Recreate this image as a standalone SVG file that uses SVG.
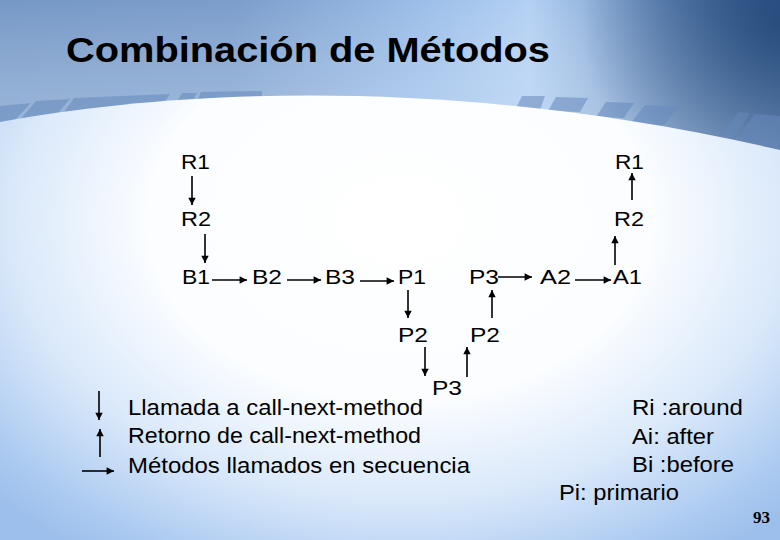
<svg xmlns="http://www.w3.org/2000/svg" width="780" height="540" viewBox="0 0 780 540">
  <defs>
    <radialGradient id="bgLow" cx="400" cy="220" r="560" gradientUnits="userSpaceOnUse" gradientTransform="translate(400 220) scale(1 0.72) translate(-400 -220)">
      <stop offset="0" stop-color="#ffffff"/>
      <stop offset="0.45" stop-color="#fbfdff"/>
      <stop offset="0.7" stop-color="#d9e8fa"/>
      <stop offset="0.9" stop-color="#adcbf1"/>
      <stop offset="1" stop-color="#9cbfeb"/>
    </radialGradient>
    <linearGradient id="topBand" x1="0" y1="0" x2="780" y2="0" gradientUnits="userSpaceOnUse">
      <stop offset="0" stop-color="#7598c6"/>
      <stop offset="0.3" stop-color="#7b9dcb"/>
      <stop offset="0.55" stop-color="#9dbfe9"/>
      <stop offset="0.68" stop-color="#b3d0f3"/>
      <stop offset="0.85" stop-color="#6f93c2"/>
      <stop offset="1" stop-color="#3a6194"/>
    </linearGradient>
    <linearGradient id="topFade" x1="0" y1="0" x2="0" y2="150" gradientUnits="userSpaceOnUse">
      <stop offset="0" stop-color="#ffffff" stop-opacity="0"/>
      <stop offset="1" stop-color="#cfe2f8" stop-opacity="0.45"/>
    </linearGradient>
    <radialGradient id="cornerDark" cx="780" cy="20" r="200" gradientUnits="userSpaceOnUse">
      <stop offset="0" stop-color="#23497a" stop-opacity="0.85"/>
      <stop offset="1" stop-color="#23497a" stop-opacity="0"/>
    </radialGradient>
    <marker id="ah" viewBox="0 0 10 10" refX="10" refY="5" markerWidth="5" markerHeight="4.6" orient="auto" markerUnits="strokeWidth">
      <path d="M0,0 L10,5 L0,10 z" fill="#000"/>
    </marker>
    <style>
      .lbl { font-family: "Liberation Sans", Arial, sans-serif; font-size: 21px; fill: #000; }
      .leg { font-family: "Liberation Sans", Arial, sans-serif; font-size: 22px; fill: #000; }
      .title { font-family: "Liberation Sans", Arial, sans-serif; font-size: 35px; font-weight: bold; fill: #000; }
      .num { font-family: "Liberation Serif", "Times New Roman", serif; font-size: 17px; font-weight: bold; fill: #000; }
      .ar { stroke: #000; stroke-width: 1.6; fill: none; marker-end: url(#ah); }
      .stripe { fill: #6688bb; opacity: 0.55; }
    </style>
  </defs>

  <!-- background -->
  <rect x="0" y="0" width="780" height="540" fill="url(#bgLow)"/>
  <path d="M0,0 H780 V160 L0,160 Z" fill="url(#topBand)"/>
  <path d="M0,0 H780 V160 L0,160 Z" fill="url(#topFade)"/>
  <path d="M0,0 H780 V160 L0,160 Z" fill="url(#cornerDark)"/>
  <g id="stripes">
    <polygon class="stripe" points="0,106 31,103 10,125 0,125"/>
    <polygon class="stripe" points="36,101 70,99 52,120 18,122"/>
    <polygon class="stripe" points="74,98 170,94 160,110 62,115"/>
    <polygon class="stripe" points="182,93 197,93 190,105 175,105"/>
    <polygon class="stripe" points="201,92 262,91 262,105 195,106"/>
    <polygon class="stripe" points="522,96 545,96 540,110 515,110"/>
    <polygon class="stripe" points="556,97 588,98 580,112 548,111"/>
    <polygon class="stripe" points="606,102 634,103 624,118 596,117"/>
    <polygon class="stripe" points="645,105 678,107 664,125 630,124"/>
    <polygon class="stripe" points="738,112 750,113 725,150 712,150"/>
    <polygon class="stripe" points="754,114 780,116 780,150 730,150"/>
  </g>
  <path d="M0,122 C200,85 480,80 780,150 V540 H0 Z" fill="url(#bgLow)"/>

  <text class="title" x="66" y="62" textLength="484" lengthAdjust="spacingAndGlyphs">Combinación de Métodos</text>

  <g id="connectors">
    <line class="ar" x1="192" y1="176" x2="192" y2="205"/>
    <line class="ar" x1="205" y1="234" x2="205" y2="263"/>
    <line class="ar" x1="212" y1="280" x2="247" y2="280"/>
    <line class="ar" x1="287" y1="280" x2="321" y2="280"/>
    <line class="ar" x1="360" y1="281" x2="394" y2="281"/>
    <line class="ar" x1="408" y1="290" x2="408" y2="318"/>
    <line class="ar" x1="425" y1="347" x2="425" y2="376"/>
    <line class="ar" x1="467" y1="377" x2="467" y2="347"/>
    <line class="ar" x1="492" y1="318" x2="492" y2="290"/>
    <line class="ar" x1="498" y1="277" x2="532" y2="277"/>
    <line class="ar" x1="575" y1="280" x2="611" y2="280"/>
    <line class="ar" x1="615" y1="265" x2="615" y2="236"/>
    <line class="ar" x1="632" y1="200" x2="632" y2="173"/>
    <!-- legend arrows -->
    <line class="ar" x1="99" y1="391" x2="99" y2="420"/>
    <line class="ar" x1="100" y1="457" x2="100" y2="429"/>
    <line class="ar" x1="82" y1="471" x2="114" y2="471"/>
  </g>

  <g id="R1a"><text class="lbl" x="181" y="169" textLength="29" lengthAdjust="spacingAndGlyphs">R1</text></g>
  <g id="R2a"><text class="lbl" x="181" y="226" textLength="30" lengthAdjust="spacingAndGlyphs">R2</text></g>
  <g id="B1"><text class="lbl" x="182" y="284" textLength="28" lengthAdjust="spacingAndGlyphs">B1</text></g>
  <g id="B2"><text class="lbl" x="252" y="284" textLength="30" lengthAdjust="spacingAndGlyphs">B2</text></g>
  <g id="B3"><text class="lbl" x="325" y="284" textLength="30" lengthAdjust="spacingAndGlyphs">B3</text></g>
  <g id="P1"><text class="lbl" x="398" y="284" textLength="28" lengthAdjust="spacingAndGlyphs">P1</text></g>
  <g id="P2a"><text class="lbl" x="398" y="342" textLength="30" lengthAdjust="spacingAndGlyphs">P2</text></g>
  <g id="P3b"><text class="lbl" x="432" y="395" textLength="30" lengthAdjust="spacingAndGlyphs">P3</text></g>
  <g id="P2b"><text class="lbl" x="470" y="342" textLength="30" lengthAdjust="spacingAndGlyphs">P2</text></g>
  <g id="P3a"><text class="lbl" x="469" y="284" textLength="30" lengthAdjust="spacingAndGlyphs">P3</text></g>
  <g id="A2"><text class="lbl" x="540" y="284" textLength="31" lengthAdjust="spacingAndGlyphs">A2</text></g>
  <g id="A1"><text class="lbl" x="613" y="284" textLength="29" lengthAdjust="spacingAndGlyphs">A1</text></g>
  <g id="R2b"><text class="lbl" x="614" y="226" textLength="30" lengthAdjust="spacingAndGlyphs">R2</text></g>
  <g id="R1b"><text class="lbl" x="615" y="169" textLength="29" lengthAdjust="spacingAndGlyphs">R1</text></g>

  <g id="legend">
    <text class="leg" x="128" y="415" textLength="295" lengthAdjust="spacingAndGlyphs">Llamada a call-next-method</text>
    <text class="leg" x="128" y="443" textLength="293" lengthAdjust="spacingAndGlyphs">Retorno de call-next-method</text>
    <text class="leg" x="128" y="473" textLength="342" lengthAdjust="spacingAndGlyphs">Métodos llamados en secuencia</text>
    <text class="leg" x="632" y="415" textLength="111" lengthAdjust="spacingAndGlyphs">Ri :around</text>
    <text class="leg" x="632" y="444" textLength="82" lengthAdjust="spacingAndGlyphs">Ai: after</text>
    <text class="leg" x="632" y="472" textLength="102" lengthAdjust="spacingAndGlyphs">Bi :before</text>
    <text class="leg" x="559" y="500" textLength="120" lengthAdjust="spacingAndGlyphs">Pi: primario</text>
  </g>
  <text class="num" x="753" y="523">93</text>
</svg>
